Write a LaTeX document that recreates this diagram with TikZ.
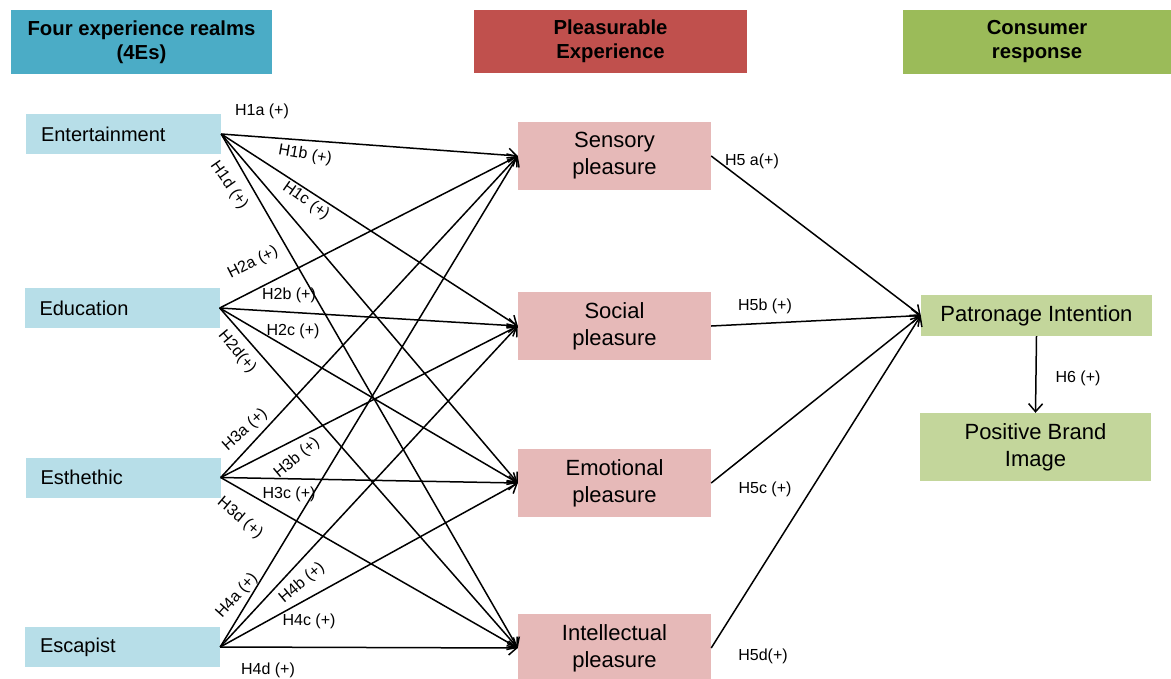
\documentclass[tikz,border=0pt]{standalone}
\usepackage{fontspec}
\setmainfont{Liberation Sans}
\usetikzlibrary{arrows.meta, positioning}
\definecolor{realmHead}{HTML}{4BACC6}
\definecolor{pleasureHead}{HTML}{C0504D}
\definecolor{responseHead}{HTML}{9BBB59}
\definecolor{realmFill}{HTML}{B7DEE8}
\definecolor{pleasureFill}{HTML}{E6B9B8}
\definecolor{responseFill}{HTML}{C3D69B}
\tikzset{
    headBox/.style={inner sep=0pt, align=center, font=\bfseries\fontsize{20.3}{24}\selectfont},
    realmBox/.style={fill=realmFill, minimum width=195pt, minimum height=40pt, text width=165pt, inner xsep=15pt, inner ysep=0pt, align=left, font=\fontsize{20}{23}\selectfont},
    pleasureBox/.style={fill=pleasureFill, minimum width=193pt, minimum height=68pt, inner sep=0pt, align=center, font=\fontsize{22}{27}\selectfont},
    responseBox/.style={fill=responseFill, minimum width=231pt, inner sep=0pt, align=center, font=\fontsize{22}{27}\selectfont},
    hypEdge/.style={-{Straight Barb[length=8pt, width=14pt]}, line width=1.5pt},
    hypLabel/.style={inner sep=0pt, font=\fontsize{16}{18}\selectfont},
}
\newcommand{\drawHyp}[2]{
    \draw[hypEdge] (#1.east) -- (#2.west);
}

\begin{document}
\begin{tikzpicture}[x=1pt, y=-1pt]
    \useasboundingbox (0,0) rectangle (1171,678);

    % column heads
    \node[headBox, fill=realmHead, minimum width=261pt, minimum height=64pt] (headRealms) at (141.5,42) {Four experience realms\\(4Es)};
    \node[headBox, fill=pleasureHead, minimum width=273pt, minimum height=63pt] (headPleasure) at (610.5,41.5) {Pleasurable\\Experience};
    \node[headBox, fill=responseHead, minimum width=268pt, minimum height=64pt] (headResponse) at (1037,42) {Consumer\\response};

    % four realms
    \node[realmBox] (ent) at (123.5,134) {Entertainment};
    \node[realmBox] (edu) at (122,308) {Education};
    \node[realmBox] (est) at (123,477.5) {Esthethic};
    \node[realmBox] (esc) at (122.5,647) {Escapist};

    % pleasures
    \node[pleasureBox] (sens) at (614.5,156) {Sensory\\pleasure};
    \node[pleasureBox] (soc) at (614.5,326) {Social\\pleasure};
    \node[pleasureBox] (emo) at (614.5,483) {Emotional\\pleasure};
    \node[pleasureBox] (intel) at (614.5,648) {Intellectual\\pleasure};

    % response
    \node[responseBox, minimum height=41pt] (pat) at (1036.5,315.5) {Patronage Intention};
    \node[responseBox, minimum height=68pt] (brand) at (1035.5,447) {Positive Brand\\Image};

    \foreach \src in {ent, edu, est, esc}
        \foreach \dst in {sens, soc, emo, intel}
            {\drawHyp{\src}{\dst}}

    \foreach \src in {sens, soc, emo, intel}
        {\drawHyp{\src}{pat}}

    \draw[hypEdge] (pat.south) -- (brand.north);

    % hypothesis labels
    \node[hypLabel] (h1a) at (262,111) {H1a (+)};
    \node[hypLabel, rotate=-10] (h1b) at (305,155) {H1b (+)};
    \node[hypLabel, rotate=-35] (h1c) at (306,201) {H1c (+)};
    \node[hypLabel, rotate=-55] (h1d) at (229,185) {H1d (+)};
    \node[hypLabel, rotate=27] (h2a) at (253,263) {H2a (+)};
    \node[hypLabel] (h2b) at (289,295) {H2b (+)};
    \node[hypLabel] (h2c) at (293,331) {H2c (+)};
    \node[hypLabel, rotate=-50] (h2d) at (237,352) {H2d(+)};
    \node[hypLabel, rotate=42] (h3a) at (245,430) {H3a (+)};
    \node[hypLabel, rotate=40] (h3b) at (297,458) {H3b (+)};
    \node[hypLabel] (h3c) at (289,494) {H3c (+)};
    \node[hypLabel, rotate=-40] (h3d) at (240,518) {H3d (+)};
    \node[hypLabel, rotate=48] (h4a) at (237,596) {H4a (+)};
    \node[hypLabel, rotate=40] (h4b) at (302,583) {H4b (+)};
    \node[hypLabel] (h4c) at (309,621) {H4c (+)};
    \node[hypLabel] (h4d) at (268,670) {H4d (+)};
    \node[hypLabel] (h5a) at (752,161) {H5 a(+)};
    \node[hypLabel] (h5b) at (765,306) {H5b (+)};
    \node[hypLabel] (h5c) at (765,489) {H5c (+)};
    \node[hypLabel] (h5d) at (763,656) {H5d(+)};
    \node[hypLabel] (h6) at (1078,378) {H6 (+)};
\end{tikzpicture}
\end{document}
